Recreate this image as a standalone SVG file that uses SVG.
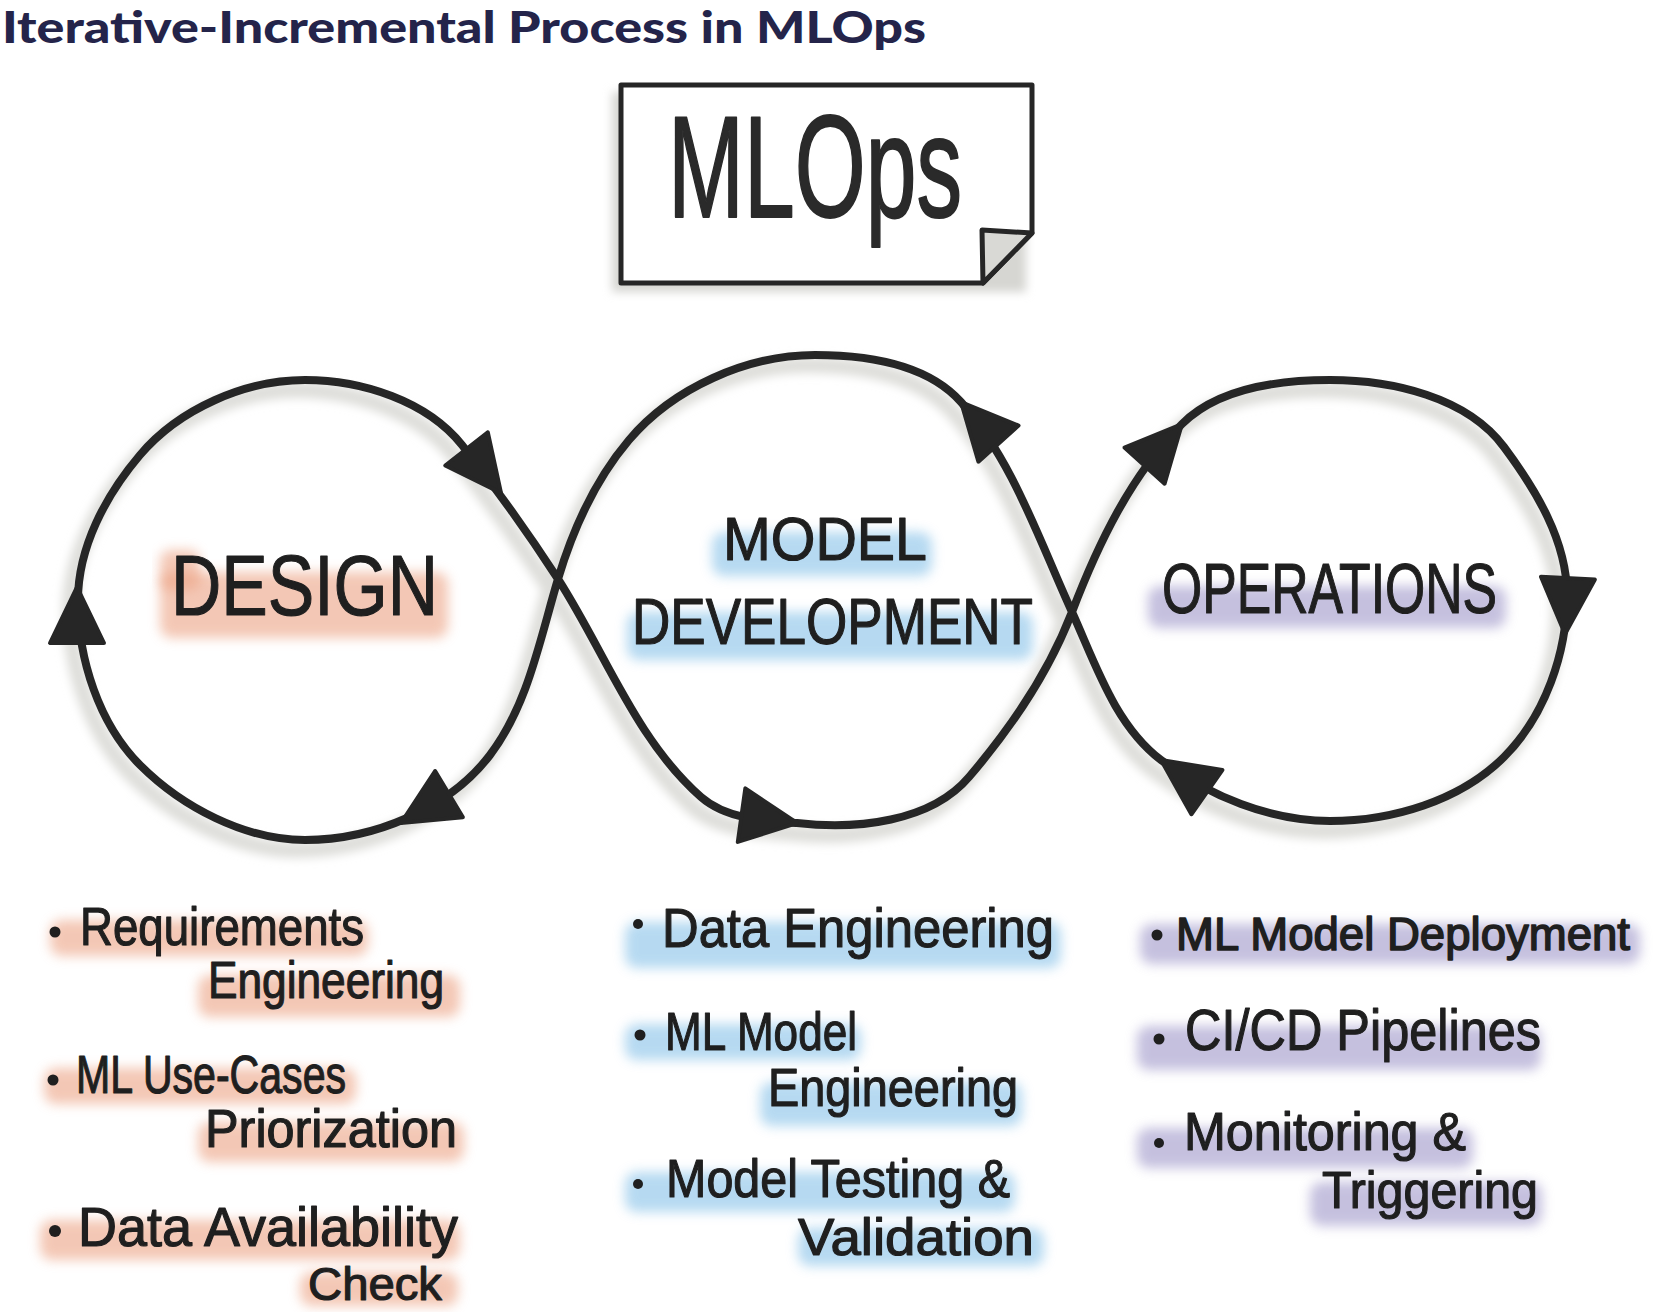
<svg xmlns="http://www.w3.org/2000/svg" xmlns:xlink="http://www.w3.org/1999/xlink" width="1656" height="1312" viewBox="0 0 1656 1312">
<style>
.title{font-family:Lato,"Liberation Sans",Arial,sans-serif;font-weight:900;font-size:44px;fill:#24244a}
.hand{font-family:"Liberation Sans",Arial,sans-serif;fill:#1f1f1f;stroke:#1f1f1f;stroke-width:1.2;stroke-linejoin:round}
.big{font-family:"Liberation Sans",Arial,sans-serif;fill:#2a2a2a;stroke:#2a2a2a;stroke-width:2;stroke-linejoin:round}
.dot{fill:#1f1f1f}
.wo{fill:#eca384;opacity:.6;filter:url(#soft)}
.wb{fill:#86c1e8;opacity:.6;filter:url(#soft)}
.wp{fill:#9f97c9;opacity:.6;filter:url(#soft)}
.arrow{fill:#262626;stroke:#262626;stroke-width:4;stroke-linejoin:round}
.box{fill:#fff;stroke:#262626;stroke-width:5;stroke-linejoin:round}
</style>
<defs>
<filter id="soft" x="-20%" y="-60%" width="140%" height="220%"><feGaussianBlur stdDeviation="6"/></filter>
<filter id="blur" x="-10%" y="-10%" width="120%" height="120%"><feGaussianBlur stdDeviation="5"/></filter>
<path id="loopPath" d="M558,579 C540,639 528,705 490,755 C449,809 373,840 305,840 C245,840 182,807 140,765 C99,724 78,659 78,600 C78,547 106,495 140,455 C179,409 245,380 305,380 C362,380 427,401 462,445 C496,488 528,533 558,579 C605,652 636,740 701,797 C726,819 764,821 797,823 C856,830 931,822 969,777 C1011,728 1049,672 1072,612 C1098,544 1131,475 1182,424 C1218,388 1279,380 1330,380 C1392,380 1467,397 1504,447 C1536,490 1567,541 1567,595 C1567,653 1545,716 1504,757 C1460,801 1392,821 1330,821 C1270,821 1209,796 1161,760 C1115,725 1096,665 1072,612 C1039,540 1013,461 961,402 C927,364 866,355 815,355 C747,355 673,388 629,440 C595,480 573,529 558,579 Z"/>
<polygon id="ah" points="0,0 -56,-27 -56,27"/>
</defs>
<rect width="1656" height="1312" fill="#fff"/>

<g id="title">
<text class="title" x="2" y="43" textLength="924" lengthAdjust="spacingAndGlyphs">Iterative-Incremental Process in MLOps</text>
</g>

<g id="node-mlops">
<rect x="612" y="92" width="414" height="200" fill="#d6d6d2" filter="url(#blur)"/>
<path class="box" d="M621,85 H1032 V233 L983,283 H621 Z"/>
<path d="M982,230 L1032,233 L983,283 Z" fill="#d9d9d5" stroke="#262626" stroke-width="5" stroke-linejoin="round"/>
<text class="big" x="668" y="217" font-size="145" textLength="294" lengthAdjust="spacingAndGlyphs">MLOps</text>
</g>

<g id="connectors">
<use xlink:href="#loopPath" href="#loopPath" transform="translate(-8,10)" style="fill:none;stroke:#dededa;stroke-width:16;filter:url(#blur)"/>
<use xlink:href="#loopPath" href="#loopPath" style="fill:none;stroke:#262626;stroke-width:8;stroke-linejoin:round"/>
<use class="arrow" xlink:href="#ah" href="#ah" transform="translate(501,493) rotate(52)"/>
<use class="arrow" xlink:href="#ah" href="#ah" transform="translate(77,587) rotate(-90)"/>
<use class="arrow" xlink:href="#ah" href="#ah" transform="translate(401,823) rotate(149)"/>
<use class="arrow" xlink:href="#ah" href="#ah" transform="translate(797,823) rotate(8)"/>
<use class="arrow" xlink:href="#ah" href="#ah" transform="translate(1182,424) rotate(-48)"/>
<use class="arrow" xlink:href="#ah" href="#ah" transform="translate(1565,634) rotate(93)"/>
<use class="arrow" xlink:href="#ah" href="#ah" transform="translate(1161,760) rotate(215)"/>
<use class="arrow" xlink:href="#ah" href="#ah" transform="translate(961,402) rotate(228)"/>
</g>

<g id="node-design">
<rect class="wo" x="160" y="572" width="288" height="66" rx="12"/>
<rect class="wo" x="160" y="550" width="40" height="40" rx="10"/>
<text class="hand" x="171" y="615" font-size="86" textLength="267" lengthAdjust="spacingAndGlyphs">DESIGN</text>
<g id="design-items">
<rect class="wo" x="50" y="920" width="318" height="36" rx="12"/>
<rect class="wo" x="198" y="975" width="262" height="42" rx="12"/>
<rect class="wo" x="44" y="1068" width="312" height="36" rx="12"/>
<rect class="wo" x="198" y="1122" width="266" height="40" rx="12"/>
<rect class="wo" x="40" y="1220" width="420" height="40" rx="12"/>
<rect class="wo" x="300" y="1272" width="158" height="34" rx="12"/>
<circle class="dot" cx="55" cy="932" r="5.5"/>
<circle class="dot" cx="53" cy="1080" r="5.5"/>
<circle class="dot" cx="55" cy="1231" r="6"/>
<text class="hand" x="80" y="945" font-size="54" textLength="284" lengthAdjust="spacingAndGlyphs">Requirements</text>
<text class="hand" x="208" y="998" font-size="52" textLength="236" lengthAdjust="spacingAndGlyphs">Engineering</text>
<text class="hand" x="76" y="1093" font-size="54" textLength="270" lengthAdjust="spacingAndGlyphs">ML Use-Cases</text>
<text class="hand" x="205" y="1147" font-size="54" textLength="252" lengthAdjust="spacingAndGlyphs">Priorization</text>
<text class="hand" x="78" y="1246" font-size="56" textLength="380" lengthAdjust="spacingAndGlyphs">Data Availability</text>
<text class="hand" x="308" y="1300" font-size="46" textLength="134" lengthAdjust="spacingAndGlyphs">Check</text>
</g>
</g>

<g id="node-model-development">
<rect class="wb" x="712" y="532" width="220" height="44" rx="12"/>
<rect class="wb" x="627" y="612" width="406" height="48" rx="12"/>
<text class="hand" x="723" y="560" font-size="62" textLength="204" lengthAdjust="spacingAndGlyphs">MODEL</text>
<text class="hand" x="632" y="644" font-size="64" textLength="401" lengthAdjust="spacingAndGlyphs">DEVELOPMENT</text>
<g id="model-items">
<rect class="wb" x="625" y="922" width="436" height="46" rx="12"/>
<rect class="wb" x="625" y="1024" width="236" height="36" rx="12"/>
<rect class="wb" x="760" y="1082" width="262" height="44" rx="12"/>
<rect class="wb" x="625" y="1172" width="390" height="40" rx="12"/>
<rect class="wb" x="798" y="1228" width="246" height="38" rx="12"/>
<circle class="dot" cx="638" cy="924" r="5"/>
<circle class="dot" cx="640" cy="1035" r="5.5"/>
<circle class="dot" cx="638" cy="1184" r="5"/>
<text class="hand" x="662" y="947" font-size="56" textLength="392" lengthAdjust="spacingAndGlyphs">Data Engineering</text>
<text class="hand" x="665" y="1050" font-size="54" textLength="192" lengthAdjust="spacingAndGlyphs">ML Model</text>
<text class="hand" x="768" y="1106" font-size="54" textLength="250" lengthAdjust="spacingAndGlyphs">Engineering</text>
<text class="hand" x="666" y="1197" font-size="54" textLength="344" lengthAdjust="spacingAndGlyphs">Model Testing &amp;</text>
<text class="hand" x="798" y="1255" font-size="52" textLength="236" lengthAdjust="spacingAndGlyphs">Validation</text>
</g>
</g>

<g id="node-operations">
<rect class="wp" x="1148" y="586" width="358" height="42" rx="12"/>
<text class="hand" x="1162" y="613" font-size="70" textLength="335" lengthAdjust="spacingAndGlyphs">OPERATIONS</text>
<g id="operations-items">
<rect class="wp" x="1140" y="924" width="500" height="40" rx="12"/>
<rect class="wp" x="1137" y="1026" width="404" height="44" rx="12"/>
<rect class="wp" x="1137" y="1128" width="336" height="40" rx="12"/>
<rect class="wp" x="1310" y="1182" width="232" height="44" rx="12"/>
<circle class="dot" cx="1157" cy="935" r="5.5"/>
<circle class="dot" cx="1159" cy="1039" r="5.5"/>
<circle class="dot" cx="1159" cy="1143" r="5"/>
<text class="hand" x="1176" y="950" font-size="47" textLength="454" lengthAdjust="spacingAndGlyphs" style="stroke-width:1.6">ML Model Deployment</text>
<text class="hand" x="1185" y="1050" font-size="58" textLength="356" lengthAdjust="spacingAndGlyphs">CI/CD Pipelines</text>
<text class="hand" x="1184" y="1150" font-size="54" textLength="282" lengthAdjust="spacingAndGlyphs">Monitoring &amp;</text>
<text class="hand" x="1322" y="1208" font-size="52" textLength="216" lengthAdjust="spacingAndGlyphs">Triggering</text>
</g>
</g>
</svg>
